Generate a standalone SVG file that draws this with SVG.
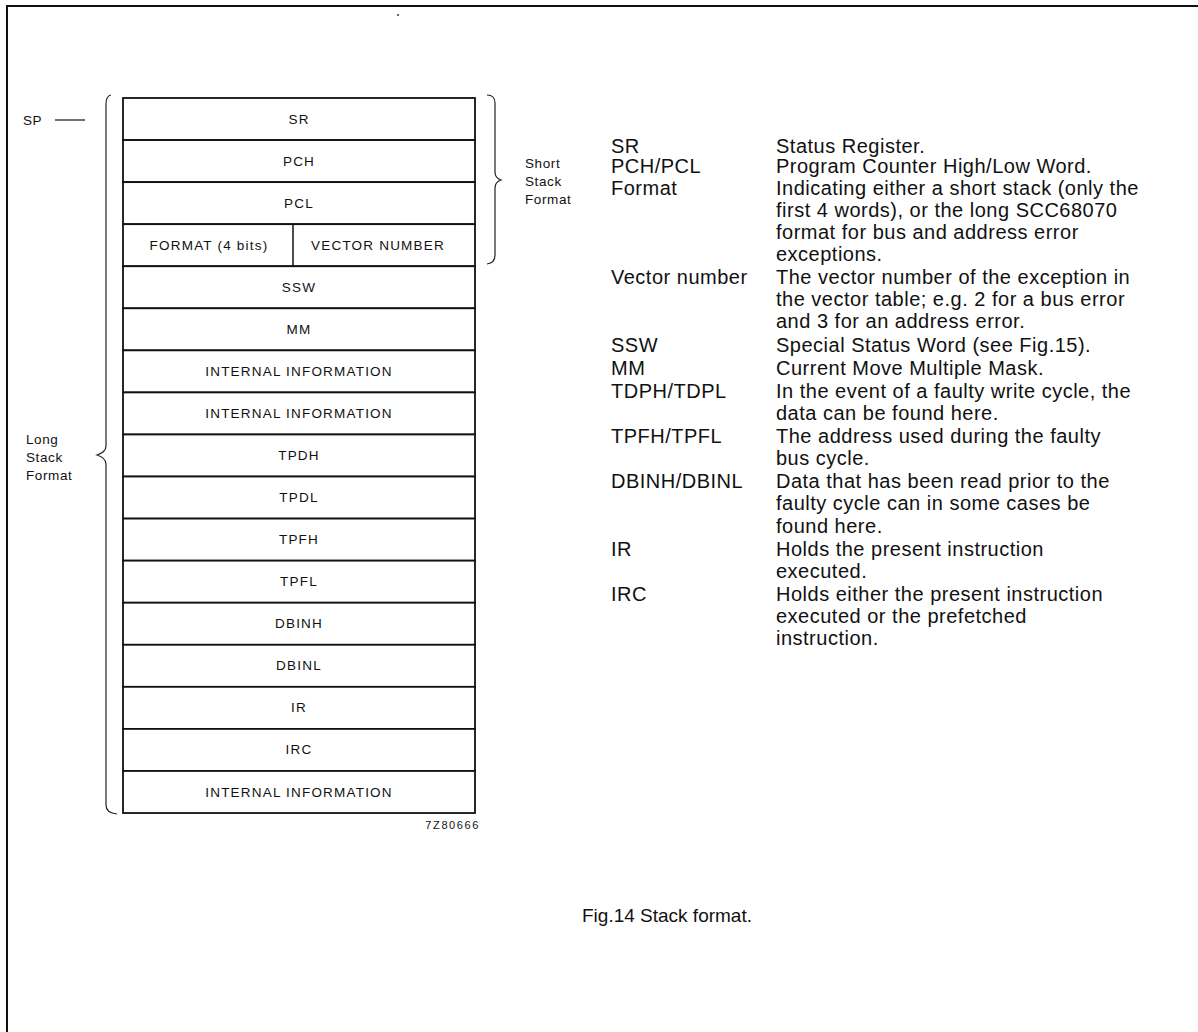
<svg xmlns="http://www.w3.org/2000/svg" width="1198" height="1032" viewBox="0 0 1198 1032">
<style>
.bg{fill:#fff}
.frame{fill:none;stroke:#111;stroke-width:2}
.cell{fill:#fff;stroke:#111;stroke-width:1.8}
.brace{fill:none;stroke:#222;stroke-width:1.2}
.lbl{font-family:"Liberation Sans",Arial,sans-serif;font-size:13.5px;letter-spacing:1.2px;fill:#111;text-anchor:middle}
.side{font-family:"Liberation Sans",Arial,sans-serif;font-size:13.5px;letter-spacing:0.6px;fill:#111}
.txt{font-family:"Liberation Sans",Arial,sans-serif;font-size:20px;letter-spacing:0.5px;fill:#111}
.cap{font-family:"Liberation Sans",Arial,sans-serif;font-size:19px;fill:#111;text-anchor:middle}
.code{font-family:"Liberation Sans",Arial,sans-serif;font-size:11px;letter-spacing:1.6px;fill:#111;text-anchor:end}
</style>
<rect class="bg" x="0" y="0" width="1198" height="1032"/>
<path class="frame" d="M7,1032 L7,6 L1198,6"/>
<circle cx="398" cy="15" r="1" fill="#333"/>

<g id="connectors">
  <path id="brace-long" class="brace" d="M111,95 Q106,96 106,104 L106,446 Q106,452 97,455 Q106,458 106,464 L106,805 Q106,813 117,814"/>
  <path id="brace-short" class="brace" d="M487,95 Q495,95 495,103 L495,172 Q495,178 501,180 Q495,182 495,188 L495,255 Q495,263 487,264"/>
  <line id="sp-pointer" x1="55" y1="120" x2="85" y2="120" stroke="#111" stroke-width="1.2"/>
</g>

<g id="stack">
  <g id="row-sr"><rect class="cell" x="123" y="98" width="352" height="42.06"/><text class="lbl" x="299" y="124">SR</text></g>
  <g id="row-pch"><rect class="cell" x="123" y="140.06" width="352" height="42.06"/><text class="lbl" x="299" y="166">PCH</text></g>
  <g id="row-pcl"><rect class="cell" x="123" y="182.12" width="352" height="42.06"/><text class="lbl" x="299" y="208">PCL</text></g>
  <g id="row-format"><rect class="cell" x="123" y="224.18" width="352" height="42.06"/><line x1="293" y1="224.18" x2="293" y2="266.24" stroke="#111" stroke-width="1.5"/><text class="lbl" x="209" y="250">FORMAT (4 bits)</text><text class="lbl" x="378" y="250">VECTOR NUMBER</text></g>
  <g id="row-ssw"><rect class="cell" x="123" y="266.24" width="352" height="42.06"/><text class="lbl" x="299" y="292">SSW</text></g>
  <g id="row-mm"><rect class="cell" x="123" y="308.3" width="352" height="42.06"/><text class="lbl" x="299" y="334">MM</text></g>
  <g id="row-int1"><rect class="cell" x="123" y="350.36" width="352" height="42.06"/><text class="lbl" x="299" y="376">INTERNAL INFORMATION</text></g>
  <g id="row-int2"><rect class="cell" x="123" y="392.42" width="352" height="42.06"/><text class="lbl" x="299" y="418">INTERNAL INFORMATION</text></g>
  <g id="row-tpdh"><rect class="cell" x="123" y="434.48" width="352" height="42.06"/><text class="lbl" x="299" y="460">TPDH</text></g>
  <g id="row-tpdl"><rect class="cell" x="123" y="476.54" width="352" height="42.06"/><text class="lbl" x="299" y="502">TPDL</text></g>
  <g id="row-tpfh"><rect class="cell" x="123" y="518.6" width="352" height="42.06"/><text class="lbl" x="299" y="544">TPFH</text></g>
  <g id="row-tpfl"><rect class="cell" x="123" y="560.66" width="352" height="42.06"/><text class="lbl" x="299" y="586">TPFL</text></g>
  <g id="row-dbinh"><rect class="cell" x="123" y="602.72" width="352" height="42.06"/><text class="lbl" x="299" y="628">DBINH</text></g>
  <g id="row-dbinl"><rect class="cell" x="123" y="644.78" width="352" height="42.06"/><text class="lbl" x="299" y="670">DBINL</text></g>
  <g id="row-ir"><rect class="cell" x="123" y="686.84" width="352" height="42.06"/><text class="lbl" x="299" y="712">IR</text></g>
  <g id="row-irc"><rect class="cell" x="123" y="728.9" width="352" height="42.06"/><text class="lbl" x="299" y="754">IRC</text></g>
  <g id="row-int3"><rect class="cell" x="123" y="770.96" width="352" height="42.06"/><text class="lbl" x="299" y="797">INTERNAL INFORMATION</text></g>
</g>

<g id="label-sp"><text class="side" x="23" y="125">SP</text></g>
<g id="label-long"><text class="side" x="26" y="444">Long</text><text class="side" x="26" y="462">Stack</text><text class="side" x="26" y="480">Format</text></g>
<g id="label-short"><text class="side" x="525" y="168">Short</text><text class="side" x="525" y="186">Stack</text><text class="side" x="525" y="204">Format</text></g>
<g id="code"><text class="code" x="480" y="829">7Z80666</text></g>

<g id="legend">
  <text class="txt" x="611" y="153">SR</text><text class="txt" x="776" y="153">Status Register.</text>
  <text class="txt" x="611" y="173">PCH/PCL</text><text class="txt" x="776" y="173">Program Counter High/Low Word.</text>
  <text class="txt" x="611" y="195">Format</text><text class="txt" x="776" y="195">Indicating either a short stack (only the</text>
  <text class="txt" x="776" y="217">first 4 words), or the long SCC68070</text>
  <text class="txt" x="776" y="239">format for bus and address error</text>
  <text class="txt" x="776" y="261">exceptions.</text>
  <text class="txt" x="611" y="284">Vector number</text><text class="txt" x="776" y="284">The vector number of the exception in</text>
  <text class="txt" x="776" y="306">the vector table; e.g. 2 for a bus error</text>
  <text class="txt" x="776" y="328">and 3 for an address error.</text>
  <text class="txt" x="611" y="352">SSW</text><text class="txt" x="776" y="352">Special Status Word (see Fig.15).</text>
  <text class="txt" x="611" y="375">MM</text><text class="txt" x="776" y="375">Current Move Multiple Mask.</text>
  <text class="txt" x="611" y="398">TDPH/TDPL</text><text class="txt" x="776" y="398">In the event of a faulty write cycle, the</text>
  <text class="txt" x="776" y="420">data can be found here.</text>
  <text class="txt" x="611" y="443">TPFH/TPFL</text><text class="txt" x="776" y="443">The address used during the faulty</text>
  <text class="txt" x="776" y="465">bus cycle.</text>
  <text class="txt" x="611" y="488">DBINH/DBINL</text><text class="txt" x="776" y="488">Data that has been read prior to the</text>
  <text class="txt" x="776" y="510">faulty cycle can in some cases be</text>
  <text class="txt" x="776" y="533">found here.</text>
  <text class="txt" x="611" y="556">IR</text><text class="txt" x="776" y="556">Holds the present instruction</text>
  <text class="txt" x="776" y="578">executed.</text>
  <text class="txt" x="611" y="601">IRC</text><text class="txt" x="776" y="601">Holds either the present instruction</text>
  <text class="txt" x="776" y="623">executed or the prefetched</text>
  <text class="txt" x="776" y="645">instruction.</text>
</g>

<g id="caption"><text class="cap" x="667" y="922">Fig.14 Stack format.</text></g>
</svg>
